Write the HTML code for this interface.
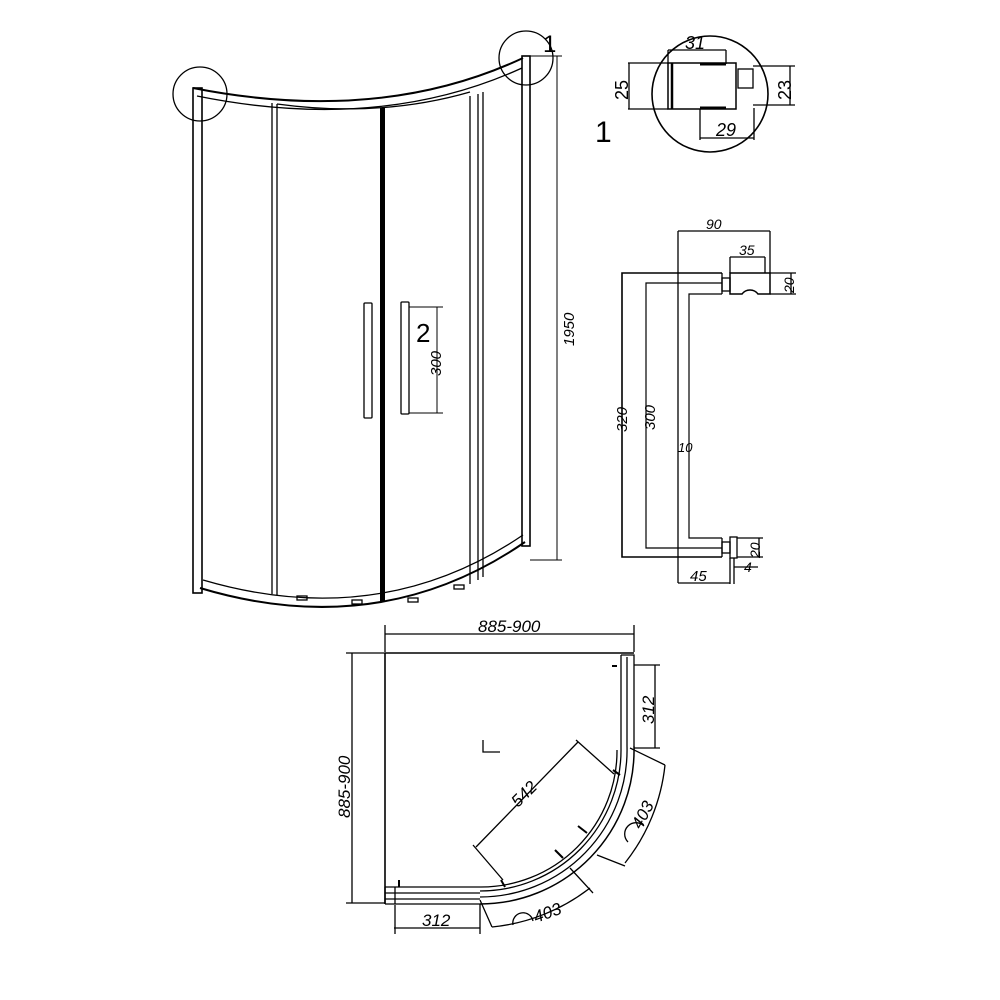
<!DOCTYPE html>
<html><head><meta charset="utf-8"><style>
html,body{margin:0;padding:0;background:#fff}
svg{display:block}
text{font-family:"Liberation Sans",sans-serif;fill:#000}
.i{font-style:italic}
</style></head><body>
<svg width="1000" height="1000" viewBox="0 0 1000 1000" xmlns="http://www.w3.org/2000/svg" fill="none" stroke="#000" stroke-width="1.3">
<!-- perspective view -->
<path d="M193,88 Q380,125 523,58" stroke-width="2"/>
<path d="M197,96 Q380,133 522,68"/>
<path d="M277,104 Q380,118 470,92" />
<path d="M200,588 Q380,642 525,542" stroke-width="2"/>
<path d="M203,580 Q380,632 523,535"/>
<rect x="193" y="88" width="9" height="505" stroke-width="1.6"/>
<rect x="522" y="56" width="8" height="490" stroke-width="1.6"/>
<line x1="272" y1="103" x2="272" y2="594"/><line x1="277" y1="104" x2="277" y2="595"/>
<rect x="380" y="108" width="5" height="494" fill="#000" stroke="none"/>
<line x1="470" y1="96" x2="470" y2="584"/><line x1="478" y1="94" x2="478" y2="580"/>
<line x1="483" y1="92" x2="483" y2="577"/>
<!-- handles -->
<rect x="364" y="303" width="8" height="115" rx="1"/>
<rect x="401" y="302" width="8" height="112" rx="1"/>
<line x1="409" y1="307" x2="443" y2="307" stroke-width="1"/>
<line x1="409" y1="413" x2="443" y2="413" stroke-width="1"/>
<line x1="437" y1="307" x2="437" y2="413" stroke-width="1"/>
<text x="416" y="342" font-size="26" stroke="none">2</text>
<text transform="translate(441,376) rotate(-90)" class="i" font-size="15" stroke="none">300</text>
<!-- bottom feet -->
<rect x="297" y="596" width="10" height="4"/><rect x="352" y="600" width="10" height="4"/>
<rect x="408" y="598" width="10" height="4"/><rect x="454" y="585" width="10" height="4"/>
<!-- circles -->
<circle cx="200" cy="94" r="27"/>
<circle cx="526" cy="58" r="27"/>
<text x="543" y="52" font-size="24" stroke="none">1</text>
<!-- 1950 -->
<line x1="530" y1="56" x2="562" y2="56" stroke-width="1"/>
<line x1="530" y1="560" x2="562" y2="560" stroke-width="1"/>
<line x1="557" y1="56" x2="557" y2="560" stroke-width="1"/>
<text transform="translate(574,346) rotate(-90)" class="i" font-size="15" stroke="none">1950</text>

<!-- detail 1 -->
<circle cx="710" cy="94" r="58" stroke-width="1.6"/>
<line x1="668" y1="50" x2="726" y2="50"/><line x1="668" y1="50" x2="668" y2="64"/><line x1="726" y1="50" x2="726" y2="64"/>
<text x="685" y="49" class="i" font-size="18" stroke="none">31</text>
<rect x="668" y="63" width="68" height="46" stroke-width="1.5"/>
<line x1="672" y1="63" x2="672" y2="109" stroke-width="2.5"/>
<line x1="700" y1="64" x2="726" y2="64" stroke-width="3"/>
<line x1="700" y1="108" x2="726" y2="108" stroke-width="3"/>
<rect x="738" y="69" width="15" height="19"/>
<line x1="628" y1="63" x2="668" y2="63"/><line x1="628" y1="109" x2="668" y2="109"/>
<line x1="629" y1="63" x2="629" y2="109"/>
<text transform="translate(628,100) rotate(-90)" font-size="18" stroke="none">25</text>
<line x1="753" y1="66" x2="795" y2="66"/><line x1="753" y1="105" x2="795" y2="105"/>
<line x1="790" y1="66" x2="790" y2="105"/>
<text transform="translate(791,100) rotate(-90)" font-size="18" stroke="none">23</text>
<line x1="700" y1="109" x2="700" y2="140"/><line x1="754" y1="108" x2="754" y2="140"/>
<line x1="700" y1="138" x2="754" y2="138"/>
<text x="716" y="136" class="i" font-size="18" stroke="none">29</text>
<text x="595" y="142" font-size="30" stroke="none">1</text>

<!-- handle detail -->
<path d="M722,273 H622 V557 H722" stroke-width="1.6"/>
<path d="M722,283 H646 V548 H722" stroke-width="1.2"/>
<path d="M722,294 H689 V538 H722" stroke-width="1.2"/>
<line x1="722" y1="273" x2="722" y2="294"/><line x1="722" y1="538" x2="722" y2="557"/>
<rect x="722" y="278" width="8" height="13"/>
<path d="M730,273 H770 V294 H758 A10,10 0 0 0 742,294 H730 Z" stroke-width="1.5"/>
<line x1="770" y1="273" x2="796" y2="273"/><line x1="770" y1="294" x2="796" y2="294"/>
<line x1="791" y1="273" x2="791" y2="294"/>
<text transform="translate(794,293) rotate(-90)" class="i" font-size="14" stroke="none">20</text>
<line x1="678" y1="231" x2="678" y2="583"/>
<line x1="678" y1="231" x2="770" y2="231"/><line x1="770" y1="231" x2="770" y2="273"/>
<text x="706" y="229" class="i" font-size="14" stroke="none">90</text>
<line x1="730" y1="257" x2="765" y2="257"/><line x1="730" y1="257" x2="730" y2="273"/><line x1="765" y1="257" x2="765" y2="273"/>
<text x="739" y="255" class="i" font-size="14" stroke="none">35</text>
<rect x="722" y="542" width="8" height="11"/>
<rect x="730" y="537" width="7" height="21"/>
<line x1="737" y1="538" x2="763" y2="538"/><line x1="737" y1="557" x2="763" y2="557"/>
<line x1="759" y1="538" x2="759" y2="557"/>
<text transform="translate(760,558) rotate(-90)" class="i" font-size="14" stroke="none">20</text>
<line x1="730" y1="558" x2="730" y2="584"/><line x1="734" y1="558" x2="734" y2="584"/>
<line x1="734" y1="567" x2="758" y2="567"/>
<text x="744" y="572" class="i" font-size="14" stroke="none">4</text>
<line x1="678" y1="583" x2="730" y2="583"/>
<text x="690" y="581" class="i" font-size="15" stroke="none">45</text>
<text transform="translate(627,432) rotate(-90)" class="i" font-size="15" stroke="none">320</text>
<text transform="translate(655,430) rotate(-90)" class="i" font-size="15" stroke="none">300</text>
<text x="678" y="452" class="i" font-size="13" stroke="none">10</text>

<!-- plan view -->
<line x1="385" y1="625" x2="385" y2="652"/><line x1="634" y1="625" x2="634" y2="652"/>
<line x1="385" y1="634" x2="634" y2="634"/>
<text x="478" y="632" class="i" font-size="17" stroke="none">885-900</text>
<line x1="346" y1="653" x2="385" y2="653"/><line x1="346" y1="903" x2="385" y2="903"/>
<line x1="352" y1="653" x2="352" y2="903"/>
<text transform="translate(350,818) rotate(-90)" class="i" font-size="17" stroke="none">885-900</text>
<line x1="385" y1="653" x2="634" y2="653" stroke-width="1.6"/>
<line x1="385" y1="653" x2="385" y2="904" stroke-width="1.6"/>
<path d="M621,655 H634 V746 M627,657 V746 M621,655 V748"/>
<path d="M385,887 H480 M385,893 H480 M385,899 H480 M385,904 H480 M385,887 V904 M395,887 V904"/>
<path d="M634,746 A154,154 0 0 1 480,904" stroke-width="1.5"/>
<path d="M627,746 A147,147 0 0 1 480,897"/>
<path d="M621,748 A141,141 0 0 1 480,891"/>
<path d="M617,750 A136,136 0 0 1 480,887"/>
<path d="M483,740 V752 H500" />
<line x1="634" y1="665" x2="660" y2="665"/><line x1="634" y1="748" x2="660" y2="748"/>
<line x1="655" y1="665" x2="655" y2="748"/>
<text transform="translate(654,724) rotate(-90)" class="i" font-size="17" stroke="none">312</text>
<line x1="395" y1="905" x2="395" y2="934"/><line x1="480" y1="904" x2="480" y2="934"/>
<line x1="394" y1="928" x2="480" y2="928"/>
<text x="422" y="926" class="i" font-size="17" stroke="none">312</text>
<line x1="476" y1="847" x2="578" y2="742"/>
<line x1="576" y1="740" x2="614" y2="774"/><line x1="473" y1="845" x2="503" y2="880"/>
<text transform="translate(518,808) rotate(-45)" class="i" font-size="17" stroke="none">542</text>
<path d="M665,765 A190,190 0 0 1 625,863"/>
<line x1="630" y1="748" x2="665" y2="765"/><line x1="597" y1="855" x2="625" y2="866"/>
<path d="M590,888 A190,190 0 0 1 492,927"/>
<line x1="480" y1="900" x2="492" y2="927"/><line x1="570" y1="868" x2="593" y2="893"/>
<text transform="translate(641,830) rotate(-62)" class="i" font-size="17" stroke="none">403</text>
<text transform="translate(536,923) rotate(-20)" class="i" font-size="17" stroke="none">403</text>
<path d="M628,842 A11,11 0 0 1 644,826"/>
<path d="M513,925 A10,10 0 0 1 533,921"/>
<g stroke-width="2">
<line x1="612" y1="666" x2="617" y2="666"/><line x1="399" y1="880" x2="399" y2="887"/>
<line x1="613" y1="770" x2="620" y2="775"/><line x1="578" y1="826" x2="587" y2="833"/>
<line x1="555" y1="850" x2="563" y2="858"/><line x1="501" y1="880" x2="505" y2="887"/>
</g>
</svg>
</body></html>
